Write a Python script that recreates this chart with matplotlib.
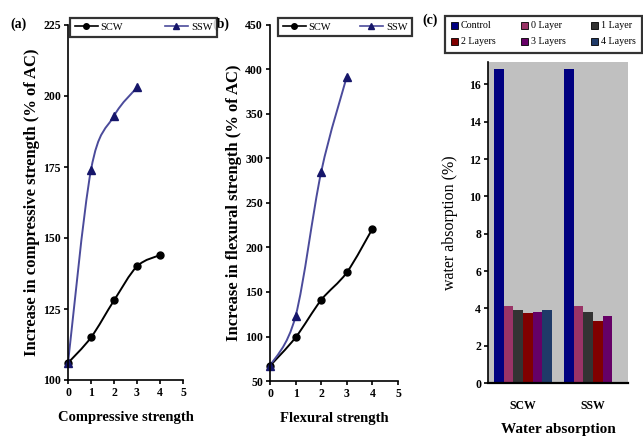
import matplotlib
matplotlib.use("Agg")
import matplotlib.pyplot as plt
from matplotlib.path import Path
from matplotlib.patches import PathPatch, Patch
from matplotlib.lines import Line2D
import numpy as np

# ==============================
# Datos
# ==============================

layers = [0, 1, 2, 3, 4]
layers_ssw = [0, 1, 2, 3]

comp_scw = [106, 115, 128, 140, 144]
comp_ssw = [106, 174, 193, 203]

flex_scw = [67, 99, 141, 172, 221]
flex_ssw = [67, 123, 285, 392]

wa_groups = ["SCW", "SSW"]
wa_series = ["Control", "0 Layer", "1 Layer", "2 Layers", "3 Layers", "4 Layers"]
wa_values = {
    "Control":  [16.8, 16.8],
    "0 Layer":  [4.1, 4.1],
    "1 Layer":  [3.9, 3.8],
    "2 Layers": [3.75, 3.3],
    "3 Layers": [3.8, 3.6],
    "4 Layers": [3.9, 0.0],
}
wa_colors = ["#000080", "#993366", "#333333", "#800000", "#660066", "#1f3a68"]

plt.rcParams["font.family"] = ["Liberation Serif", "DejaVu Serif"]
plt.rcParams["font.weight"] = "bold"

SCW_COLOR = "black"
SSW_LINE = "#4b4b9b"
SSW_MARK = "#16166a"


def smooth_line(ax, xs, ys, color, lw=1.0):
    # curva suavizada tipo Excel (Bezier sobre los puntos)
    pts = np.column_stack([xs, ys]).astype(float)
    n = len(pts)
    verts = [pts[0]]
    codes = [Path.MOVETO]
    for i in range(n - 1):
        p0 = pts[i - 1] if i > 0 else pts[i]
        p1 = pts[i]
        p2 = pts[i + 1]
        p3 = pts[i + 2] if i + 2 < n else pts[i + 1]
        c1 = p1 + (p2 - p0) / 6.0
        c2 = p2 - (p3 - p1) / 6.0
        verts += [c1, c2, p2]
        codes += [Path.CURVE4] * 3
    ax.add_patch(PathPatch(Path(verts, codes), facecolor="none",
                           edgecolor=color, lw=lw, transform=ax.transData))


def line_panel(ax, x1, y1, x2, y2, yticks, ylabel, xlabel):
    smooth_line(ax, x1, y1, SCW_COLOR, lw=1.4)
    smooth_line(ax, x2, y2, SSW_LINE, lw=1.4)
    ax.plot(x1, y1, "o", color=SCW_COLOR, ms=5, clip_on=False)
    ax.plot(x2, y2, "^", color=SSW_MARK, ms=6, clip_on=False)
    ax.set_xlim(0, 5)
    ax.set_ylim(yticks[0], yticks[-1])
    ax.set_xticks(range(6))
    ax.set_yticks(yticks)
    ax.spines["top"].set_visible(False)
    ax.spines["right"].set_visible(False)
    ax.spines["left"].set_linewidth(1.2)
    ax.spines["bottom"].set_linewidth(1.2)
    ax.tick_params(direction="out", length=3, width=1.2, labelsize=8.5, pad=2)
    for lab in ax.get_xticklabels() + ax.get_yticklabels():
        lab.set_fontweight("bold")
    ax.set_ylabel(ylabel, fontsize=12, fontweight="bold", labelpad=2)
    ax.set_xlabel(xlabel, fontsize=10.5, fontweight="bold", labelpad=9)


fig = plt.figure(figsize=(6.43, 4.37), dpi=100)

# ==============================
# (a) resistencia a compresión
# ==============================

ax1 = fig.add_axes([68 / 643, 57 / 437, 115 / 643, 355 / 437])
line_panel(ax1, layers, comp_scw, layers_ssw, comp_ssw,
           [100, 125, 150, 175, 200, 225],
           "Increase in compressive strength (% of AC)",
           "Compressive strength")

# ==============================
# (b) resistencia a flexión
# ==============================

ax2 = fig.add_axes([270 / 643, 56 / 437, 128 / 643, 356 / 437])
line_panel(ax2, layers, flex_scw, layers_ssw, flex_ssw,
           [50, 100, 150, 200, 250, 300, 350, 400, 450],
           "Increase in flexural strength (% of AC)",
           "Flexural strength")

line_handles = [
    Line2D([], [], color=SCW_COLOR, marker="o", ms=4, lw=1.2),
    Line2D([], [], color=SSW_LINE, marker="^", ms=5, lw=1.2,
           markerfacecolor=SSW_MARK, markeredgecolor=SSW_MARK),
]
for bbox in [(70 / 643, 1 - 42 / 437, 147 / 643, 29 / 437),
             (278 / 643, 1 - 41 / 437, 134 / 643, 28 / 437)]:
    leg = fig.legend(line_handles, ["SCW", "SSW"], loc="center",
                     bbox_to_anchor=bbox, ncol=2, mode="expand",
                     fontsize=7.5, frameon=True, fancybox=False,
                     handlelength=2.2, handletextpad=0.3, columnspacing=0.6,
                     borderaxespad=0, borderpad=0.45)
    leg.get_frame().set_edgecolor("black")
    leg.get_frame().set_linewidth(1.6)
    for t in leg.get_texts():
        t.set_fontweight("normal")

# ==============================
# (c) absorción de agua
# ==============================

ax3 = fig.add_axes([488 / 643, 54 / 437, 140 / 643, 321 / 437])
ax3.set_facecolor("#c0c0c0")
x = np.arange(len(wa_groups))
w = 0.136
bar_handles = []
for i, name in enumerate(wa_series):
    pos = x - 3 * w + w / 2 + i * w
    ax3.bar(pos, wa_values[name], width=w, color=wa_colors[i],
            edgecolor="none")
    bar_handles.append(Patch(facecolor=wa_colors[i], edgecolor="black",
                             linewidth=0.6))
ax3.set_xlim(-0.5, 1.5)
ax3.set_ylim(0, 17.2)
ax3.set_yticks(range(0, 17, 2))
ax3.set_xticks(x)
ax3.set_xticklabels(wa_groups, fontsize=8.5, fontweight="bold")
ax3.tick_params(axis="x", length=0, pad=12)
ax3.tick_params(axis="y", direction="out", length=3, width=1.2,
                labelsize=8.5, pad=2)
for lab in ax3.get_yticklabels():
    lab.set_fontweight("bold")
ax3.spines["top"].set_visible(False)
ax3.spines["right"].set_visible(False)
ax3.spines["left"].set_linewidth(1.2)
ax3.spines["bottom"].set_linewidth(1.6)
ax3.set_ylabel("water absorption (%)", fontsize=11.5, fontweight="normal",
               labelpad=8)
ax3.set_xlabel("Water absorption", fontsize=11, fontweight="bold",
               labelpad=8)

# orden para que las filas queden como en la figura original
order = [0, 3, 1, 4, 2, 5]
leg3 = fig.legend([bar_handles[k] for k in order],
                  [wa_series[k] for k in order], loc="center",
                  bbox_to_anchor=(445 / 643, 1 - 58 / 437, 197 / 643, 48 / 437),
                  ncol=3, mode="expand", fontsize=7.2, frameon=True,
                  fancybox=False, handlelength=0.7, handleheight=0.7,
                  handletextpad=0.3, columnspacing=0.4, borderaxespad=0,
                  borderpad=0.6, labelspacing=0.7)
leg3.get_frame().set_edgecolor("black")
leg3.get_frame().set_linewidth(1.6)
for t in leg3.get_texts():
    t.set_fontweight("normal")

# etiquetas de panel
fig.text(10 / 643, 1 - 24 / 437, "(a)", fontsize=10, fontweight="bold",
         va="center")
fig.text(212 / 643, 1 - 24 / 437, "(b)", fontsize=10, fontweight="bold",
         va="center")
fig.text(422 / 643, 1 - 20 / 437, "(c)", fontsize=10, fontweight="bold",
         va="center")

fig.savefig("out.png", dpi=100)
plt.close(fig)
